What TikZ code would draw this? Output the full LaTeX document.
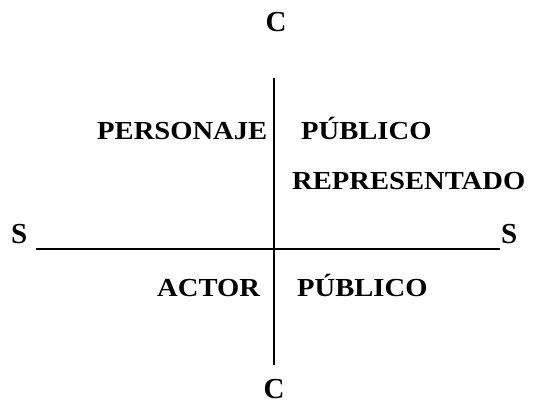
\documentclass[tikz,border=0pt]{standalone}
\usepackage{fontspec}
\setmainfont{Liberation Serif}
\newfontfamily\widefont{Liberation Serif}[FakeStretch=1.1]
\begin{document}
\begin{tikzpicture}[x=1pt,y=1pt,
  lbl/.style={font=\widefont\fontsize{26}{30}\selectfont\bfseries, inner sep=0pt, anchor=base west},
  pole/.style={font=\fontsize{29}{33}\selectfont\bfseries, inner sep=0pt, anchor=base west},
  axis/.style={line width=1.6pt, black}]
\useasboundingbox (0,0) rectangle (534,405);
% axes
\coordinate (vt) at (274,405-78);
\coordinate (vb) at (274,405-365);
\coordinate (hl) at (36,405-249);
\coordinate (hr) at (500,405-249);
\draw[axis] (vt) -- (vb);
\draw[axis] (hl) -- (hr);
% labels
\node[pole, anchor=base] (ct) at (276,405-32) {C};
\node[pole, anchor=base] (cb) at (274,405-398) {C};
\node[pole] (sl) at (11,405-243) {S};
\node[pole] (sr) at (501,405-243) {S};
\node[lbl] (pers) at (97,405-139) {PERSONAJE};
\node[lbl] (pub1) at (301,405-139) {PÚBLICO};
\node[lbl] (rep) at (292,405-189) {REPRESENTADO};
\node[lbl] (act) at (157,405-296) {ACTOR};
\node[lbl] (pub2) at (297,405-296) {PÚBLICO};
\end{tikzpicture}
\end{document}
